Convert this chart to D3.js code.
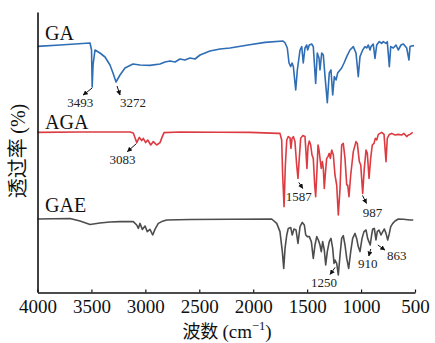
<!DOCTYPE html>
<html>
<head>
<meta charset="utf-8">
<script src="https://cdn.jsdelivr.net/npm/d3@7"></script>
<style>
body{margin:0;background:#fff}
svg{display:block}
</style>
</head>
<body>
<svg id="graphContainer"></svg>
<script>
const waveGA=[4000,3791,3513,3499,3493,3485,3467,3421,3374,3328,3300,3272,3235,3189,3115,3050,2957,2864,2818,2772,2725,2679,2633,2586,2540,2493,2401,2308,2215,2048,1891,1724,1705,1684,1668,1652,1640,1628,1606,1591,1566,1550,1536,1520,1504,1495,1480,1458,1443,1421,1406,1390,1381,1365,1350,1334,1313,1295,1279,1263,1248,1232,1217,1195,1180,1158,1133,1103,1072,1047,1026,1010,985,964,948,933,917,908,887,871,855,831,809,794,769,757,738,725,701,676,655,630,608,577,556,546,531,509]
const transGA=[122.8,123.5,124.5,121,102.5,113.5,121,119.5,117.5,113.5,109.5,105,108.5,112,114,113.5,113.3,114,115,115.5,115,116.5,116,117,116.5,118.5,120.5,121.5,122,123.5,124.8,125.5,124.6,122,114.5,112.7,114.5,112.7,101,111,121,122.7,114.5,122,123.5,121,123.5,124,122.7,104.3,119.5,117,111,119.5,118.5,107.7,94.7,109.5,111,98.5,107.7,106,109.5,111,112,114.5,117.7,121,122.7,119.5,107.7,117.7,121,122.7,122,123.5,121,122.7,124,116.8,123.5,125.2,124.3,125.2,124.3,125.2,112.7,122.7,122,123.5,121,123.5,124,122,116,122.7,123,123.2]

const waveAGA=[4000,3606,3142,3112,3080,3056,3034,3019,2997,2978,2950,2926,2895,2864,2843,2827,2679,2308,2030,1770,1752,1736,1727,1714,1702,1689,1675,1659,1650,1640,1628,1613,1597,1585,1573,1560,1541,1520,1511,1502,1492,1480,1467,1455,1443,1430,1421,1411,1399,1390,1381,1369,1359,1350,1341,1332,1319,1307,1295,1285,1272,1257,1242,1226,1211,1195,1180,1165,1149,1133,1124,1112,1096,1072,1047,1035,1016,1003,985,970,954,942,926,911,896,880,868,855,840,809,787,769,757,738,716,685,655,623,602,577,562,546,521]
const transAGA=[79.8,80,80,79.5,74.7,77.3,75.7,76.8,74.7,76,73.5,75.2,73.5,74.7,77.7,79.7,80,79.9,79.8,79.3,79.3,76,58.5,42.7,63.5,76,77.7,77.2,71.8,76.8,77.7,75.2,63.5,56.8,66.8,76.8,78.2,77.7,70.2,61.8,72.7,75.5,73.5,68.5,66.8,53.5,47.7,58.5,73.5,71,66.8,61.8,65.2,61.8,51.8,58.5,66.8,67.7,69.3,66.8,71,68.5,58.5,53.5,38.5,51.8,73.5,74.3,66.8,53.5,53.5,47.7,58.5,70.2,75.2,74.3,65.2,63.5,49.3,61.8,71,69.3,56.8,66.8,73.5,74.3,76.8,76,78.8,79.8,78.8,65.2,76.8,78.8,79.3,78.5,78.8,78.5,79.3,77.7,78.5,78.8,79.8]

const waveGAE=[4000,3699,3606,3513,3421,3328,3235,3142,3112,3080,3065,3050,3028,3003,2982,2957,2932,2911,2880,2848,2802,2586,2215,1829,1782,1752,1730,1717,1705,1689,1675,1652,1638,1622,1603,1585,1566,1545,1526,1513,1498,1480,1461,1443,1427,1411,1396,1381,1369,1356,1341,1328,1313,1295,1279,1263,1251,1242,1226,1211,1195,1180,1165,1149,1133,1115,1096,1078,1056,1041,1026,1010,991,973,954,939,915,902,892,877,862,850,834,815,799,784,769,753,738,725,706,685,655,608,546,516]
const transGAE=[36.5,36.75,35.5,33.75,34.5,35,35.2,35.2,35.2,33.5,31.8,34.3,31.3,33,30.2,31.3,28.5,31.3,34.3,35.2,36,36.25,36.35,36.5,34.3,30.2,20.2,11.8,21.8,28.5,31.8,32.2,28.5,31.5,31,24.3,32.7,34.8,33.5,28.5,27.7,27.7,25.2,16.8,23.5,27.7,26,23.5,20.2,25.2,21,13.5,20.2,25.2,26.8,21.8,14.3,16,14.3,8.5,18.5,26.8,28.2,23.5,16.8,11.8,20.2,26.8,29.3,26.8,22.7,20.2,26.8,30.2,31,26.8,23.5,28.5,31.5,31.8,26,30.2,31,28.5,30.2,31.5,29.3,26,29.3,32.7,34.3,35.5,36.5,36.35,36,36]

const seriesNames=['GA','AGA','GAE']
const seriesColors=['#2f6db5','#dc3b41','#4d4d4d']

const xTicks=[4000,3500,3000,2500,2000,1500,1000,500]

/*Pics annotés*/
const peakLabels=['3493','3272','3083','1587','987','1250','910','863']
const peakWave=[3493,3272,3083,1587,987,1250,910,863]
const peakSeries=['GA','GA','AGA','AGA','AGA','GAE','GAE','GAE']

/*Décalages des flèches et des textes par rapport au pic (px)*/
const peakLayout=[
    {sx:0,sy:1,ex:-9,ey:8,tx:-12,ty:20},
    {sx:1,sy:4,ex:4,ey:13,tx:17,ty:25},
    {sx:0,sy:1,ex:-9,ey:9,tx:-14,ty:21},
    {sx:1,sy:4,ex:5,ey:10,tx:1,ty:23},
    {sx:0,sy:2,ex:4,ey:10,tx:10,ty:24},
    {sx:1,sy:4,ex:-4,ey:11,tx:-10,ty:24},
    {sx:0,sy:4,ex:-2,ey:11,tx:-3,ty:23},
    {sx:2,sy:5,ex:9,ey:10,tx:21,ty:20}
]
/*décalage vertical des noms des courbes*/
const nameOffset=[-6.5,-3.5,-7]

const width=435,height=343
const margin={top:12,right:20,bottom:51,left:37.5}

const series=[
    {name:'GA',wave:waveGA,trans:transGA},
    {name:'AGA',wave:waveAGA,trans:transAGA},
    {name:'GAE',wave:waveGAE,trans:transGAE}
]

const serif='"Liberation Serif","Times New Roman",serif'
const cjk='"Noto Sans CJK SC",sans-serif'

let svgContainer=d3.select('#graphContainer')
                   .attr('width',width)
                   .attr('height',height)

const xScale=d3.scaleLinear()
               .domain([4000,500])
               .range([margin.left,415])

const yScale=d3.scaleLinear()
               .domain([0,140])
               .range([height-margin.bottom,margin.top])

/*Marqueur de flèche*/
svgContainer.append('defs')
            .append('marker')
            .attr('id','arrow')
            .attr('markerUnits','userSpaceOnUse')
            .attr('viewBox','0 0 10 10')
            .attr('refX',9)
            .attr('refY',5)
            .attr('markerWidth',5)
            .attr('markerHeight',5)
            .attr('orient','auto')
            .append('path')
            .attr('d','M0,0L10,5L0,10Z')
            .attr('fill','#111')

/*Courbes*/
const drawLines=()=>{
    const line=d3.line()
                 .x(d=>xScale(d[0]))
                 .y(d=>yScale(d[1]))

    series.forEach((s,i)=>{
        const pts=s.wave.map((w,j)=>[w,s.trans[j]])
        svgContainer.append('path')
                    .datum(pts)
                    .attr('d',line)
                    .attr('fill','none')
                    .attr('stroke',seriesColors[i])
                    .attr('stroke-width',1.6)
                    .attr('stroke-linejoin','round')

        svgContainer.append('text')
                    .attr('x',45)
                    .attr('y',yScale(s.trans[0])+nameOffset[i])
                    .style('font-family',serif)
                    .style('font-size','20px')
                    .attr('fill','#111')
                    .text(seriesNames[i])
    })
}

/*Axes*/
const createAxes=()=>{
    const xAxis=d3.axisBottom(xScale)
                  .tickValues(xTicks)
                  .tickSizeInner(-3)
                  .tickSizeOuter(0)
                  .tickPadding(7)
                  .tickFormat(d3.format('d'))

    const gx=svgContainer.append('g')
                .attr('transform','translate(0,'+(height-margin.bottom+0.5)+')')
                .call(xAxis)
    gx.select('.domain').attr('stroke','#111').attr('stroke-width',1.6)
    gx.selectAll('.tick line').attr('stroke','#111').attr('stroke-width',1.2)
    gx.selectAll('.tick text')
      .style('font-family',serif)
      .style('font-size','19px')
      .attr('fill','#111')

    const yAxis=d3.axisLeft(yScale)
                  .tickValues([])
                  .tickSizeOuter(0)
    svgContainer.append('g')
                .attr('transform','translate('+margin.left+',0)')
                .call(yAxis)
                .select('.domain')
                .attr('stroke','#111')
                .attr('stroke-width',1.6)

    /*titre axe des x*/
    const xt=svgContainer.append('text')
                .attr('x',227)
                .attr('y',337.5)
                .attr('text-anchor','middle')
                .attr('fill','#111')
                .style('font-size','18px')
    xt.append('tspan').style('font-family',cjk).text('波数 ')
    xt.append('tspan').style('font-family',serif).style('font-size','19px').text('(cm')
    xt.append('tspan').style('font-family',serif).style('font-size','12.5px').attr('dy',-8).text('−1')
    xt.append('tspan').style('font-family',serif).style('font-size','19px').attr('dy',8).text(')')

    /*titre axe des y*/
    const yt=svgContainer.append('text')
                .attr('transform','translate(25,151) rotate(-90)')
                .attr('text-anchor','middle')
                .attr('fill','#111')
                .style('font-size','20px')
    yt.append('tspan').style('font-family',cjk).text('透过率 ')
    yt.append('tspan').style('font-family',serif).text('(%)')
}

/*Flèches et valeurs des pics*/
const drawPeaks=()=>{
    peakWave.forEach((w,i)=>{
        const s=series.find(d=>d.name===peakSeries[i])
        const j=d3.minIndex(s.wave,d=>Math.abs(d-w))
        const px=xScale(w)
        const py=yScale(s.trans[j])
        const l=peakLayout[i]

        svgContainer.append('line')
                    .attr('x1',px+l.sx)
                    .attr('y1',py+l.sy)
                    .attr('x2',px+l.ex)
                    .attr('y2',py+l.ey)
                    .attr('stroke','#111')
                    .attr('stroke-width',1)
                    .attr('marker-end','url(#arrow)')

        svgContainer.append('text')
                    .attr('x',px+l.tx)
                    .attr('y',py+l.ty)
                    .attr('text-anchor','middle')
                    .style('font-family',serif)
                    .style('font-size','13px')
                    .attr('fill','#222')
                    .text(peakLabels[i])
    })
}

drawLines()
createAxes()
drawPeaks()
</script>
</body>
</html>
